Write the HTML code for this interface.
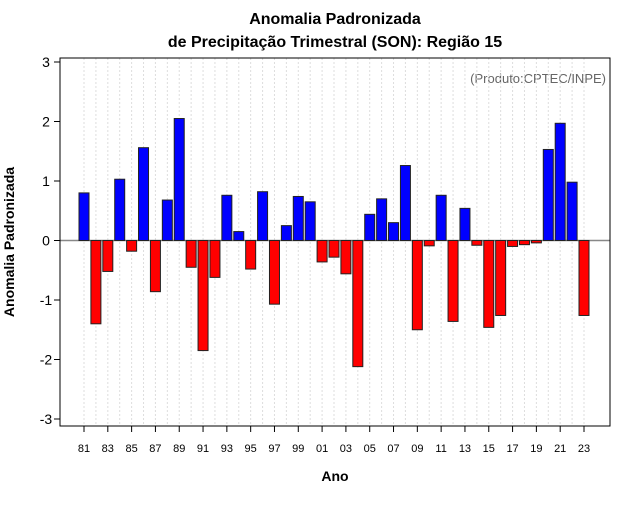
<!DOCTYPE html>
<html><head><meta charset="utf-8"><style>
body{margin:0;background:#fff;}
svg{font-family:"Liberation Sans",sans-serif;}
</style></head><body>
<svg id="chart" width="640" height="500">
<text x="335" y="24" text-anchor="middle" font-size="16" font-weight="bold">Anomalia Padronizada</text>
<text x="335" y="47" text-anchor="middle" font-size="16" font-weight="bold">de Precipitação Trimestral (SON): Região 15</text>
<text x="606" y="83" text-anchor="end" font-size="13" fill="#666">(Produto:CPTEC/INPE)</text>
<text x="335" y="481" text-anchor="middle" font-size="14" font-weight="bold">Ano</text>
<text transform="translate(14,242) rotate(-90)" text-anchor="middle" font-size="14" font-weight="bold">Anomalia Padronizada</text>
<g id="grid"></g><g id="bars"></g><g id="axes"></g>
<rect x="60" y="58" width="550" height="368" fill="none" stroke="#000"/>
</svg>
<script>
const years=[81,82,83,84,85,86,87,88,89,90,91,92,93,94,95,96,97,98,99,0,1,2,3,4,5,6,7,8,9,10,11,12,13,14,15,16,17,18,19,20,21,22,23];
const values=[0.8,-1.4,-0.52,1.03,-0.18,1.56,-0.86,0.68,2.05,-0.45,-1.85,-0.62,0.76,0.15,-0.48,0.82,-1.07,0.25,0.74,0.65,-0.36,-0.28,-0.56,-2.12,0.44,0.7,0.3,1.26,-1.5,-0.09,0.76,-1.36,0.54,-0.08,-1.46,-1.26,-0.1,-0.07,-0.04,1.53,1.97,0.98,-1.26];
const yTicks=[-3,-2,-1,0,1,2,3];
const NS="http://www.w3.org/2000/svg";
function xs(i){return 84+i*(500/42);}
function ys(v){return 240.5-v*59.5;}
function mk(t,a,p){const e=document.createElementNS(NS,t);for(const k in a)e.setAttribute(k,a[k]);p.appendChild(e);return e;}
const grid=document.getElementById('grid'),bars=document.getElementById('bars'),axes=document.getElementById('axes');
years.forEach((y,i)=>{
  const g=mk('line',{x1:xs(i),x2:xs(i),y1:58,y2:426,stroke:'#ddd','stroke-dasharray':'2,2'},grid);
  
  
});
const z=mk('line',{x1:60,x2:610,y1:ys(0),y2:ys(0),stroke:'#888','stroke-width':1.5},grid);


values.forEach((v,i)=>{
  const y0=ys(0),y1=ys(v);
  const r=mk('rect',{x:xs(i)-5,y:Math.min(y0,y1),width:10,height:Math.abs(y1-y0),fill:v>=0?'#0000ff':'#ff0000',stroke:'#222','stroke-width':1},bars);
  
  
});
yTicks.forEach(t=>{
  mk('line',{x1:54,x2:60,y1:ys(t),y2:ys(t),stroke:'#000'},axes);
  const tx=mk('text',{x:46,y:ys(t)+5,'text-anchor':'middle','font-size':14},axes);
  tx.textContent=t;
  
  
});
years.forEach((y,i)=>{
  if(i%2) return;
  mk('line',{x1:xs(i),x2:xs(i),y1:426,y2:432,stroke:'#000'},axes);
  const tx=mk('text',{x:xs(i),y:452,'text-anchor':'middle','font-size':11},axes);
  tx.textContent=String(y).padStart(2,'0');
  
  
});
</script>
</body></html>
